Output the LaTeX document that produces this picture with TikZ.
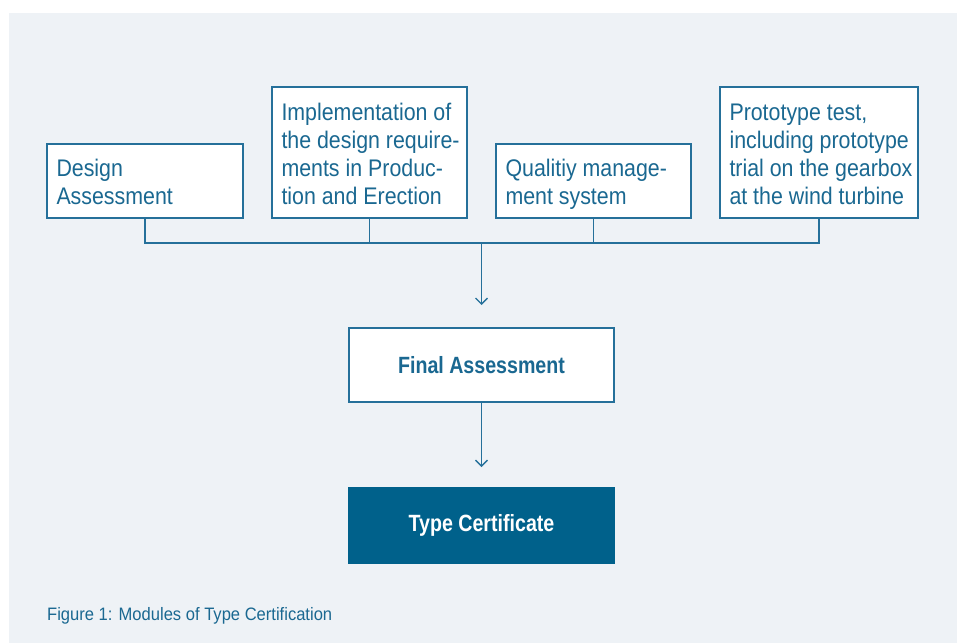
\documentclass[tikz,border=0pt]{standalone}
\usepackage{fontspec}
\setmainfont{Liberation Sans}
\newfontfamily\modfont[FakeStretch=0.89]{Liberation Sans}
\newfontfamily\modbold[FakeStretch=0.835]{Liberation Sans Bold}
\newfontfamily\capfont[FakeStretch=0.92]{Liberation Sans}
\usetikzlibrary{arrows.meta}
\definecolor{panel}{HTML}{EEF2F6}
\definecolor{ink}{HTML}{1A6891}
\definecolor{rulecol}{HTML}{25709A}
\definecolor{certfill}{HTML}{00618B}
% bottom-aligned, left-flush text block filling a module box
\newcommand\modtext[3]{\parbox[c][#2][b]{#1}{\raggedright\leftskip=9.5pt\relax #3\strut\par\kern5.6pt}}
\tikzset{
  modbox/.style={draw=rulecol, line width=1.3pt, fill=white, inner sep=0pt, outer sep=0pt,
    text=ink, font=\modfont\fontsize{24pt}{28pt}\selectfont},
  centerbox/.style={draw=rulecol, line width=1.3pt, fill=white, inner sep=0pt, outer sep=0pt,
    text=ink, font=\modbold\fontsize{23.5pt}{28pt}\selectfont},
  certbox/.style={draw=certfill, line width=1.3pt, fill=certfill, inner sep=0pt, outer sep=0pt,
    text=white, font=\modbold\fontsize{23.5pt}{28pt}\selectfont},
  link/.style={draw=rulecol, line width=1.3pt},
  flow/.style={link, -{Straight Barb[length=6pt,width=12pt,line width=1.3pt]}},
}
\begin{document}
\begin{tikzpicture}[x=1pt,y=-1pt]
  \useasboundingbox (0,0) rectangle (957,643);
  \fill[panel] (9,13) rectangle (957,643);

  % module boxes
  \node[modbox] (da) at (145,181)
    {\modtext{196pt}{74pt}{Design\\Assessment}};
  \node[modbox] (im) at (369.5,152.5)
    {\modtext{195pt}{131pt}{Implementation of\\the design require-\\ments in Produc-\\tion and Erection}};
  \node[modbox] (qm) at (593.5,181)
    {\modtext{195pt}{74pt}{Qualitiy manage-\\ment system}};
  \node[modbox] (pt) at (819,152.5)
    {\modtext{198pt}{131pt}{Prototype test,\\including prototype\\trial on the gearbox\\at the wind turbine}};

  % assessment and certificate
  \node[centerbox, minimum width=265pt, minimum height=74pt] (fa) at (481.5,365)
    {Final Assessment};
  \node[certbox, minimum width=265pt, minimum height=75pt] (tc) at (481.5,525.5)
    {Type Certificate};

  % collecting bus
  \coordinate (bus) at (481.5,243);
  \draw[link] (da.south) |- (pt.south |- bus) -- (pt.south);
  \draw[link] (im.south) -- (im.south |- bus);
  \draw[link] (qm.south) -- (qm.south |- bus);
  \draw[flow, shorten >=23pt] (bus) -- (fa.north);
  \draw[flow, shorten >=21pt] (fa.south) -- (tc.north);

  \node[anchor=base west, inner sep=0pt, text=ink,
    font=\capfont\fontsize{18pt}{21pt}\selectfont] (cap) at (47,620)
    {Figure 1: Modules of Type Certification};
\end{tikzpicture}
\end{document}
